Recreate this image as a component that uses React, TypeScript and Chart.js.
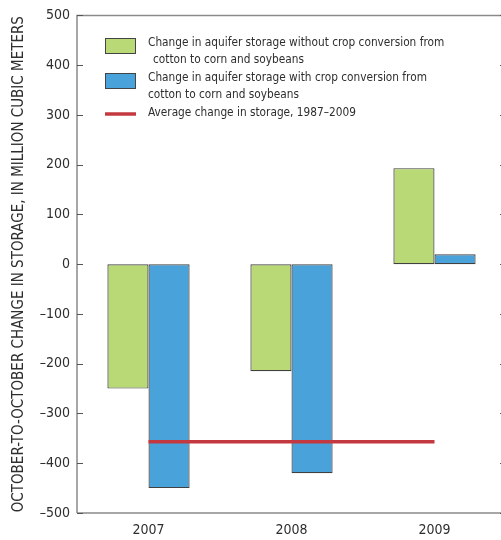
import React, { useEffect, useRef } from "react";
import { Chart, registerables } from "chart.js";

Chart.register(...registerables);

const categories = ["2007", "2008", "2009"];
const withoutConversion = [-250, -215, 193];
const withConversion = [-450, -420, 20];
const averageChange = [-357, -357, -357];
const yTicks = [500, 400, 300, 200, 100, 0, -100, -200, -300, -400, -500];

const legendLines = [
  { kind: "box", color: "#b9d977", lines: ["Change in aquifer storage without crop conversion from", " cotton to corn and soybeans"] },
  { kind: "box", color: "#4aa2da", lines: ["Change in aquifer storage with crop conversion from", "cotton to corn and soybeans"] },
  { kind: "line", color: "#c4393f", lines: ["Average change in storage, 1987\u20132009"] },
];

const FONT = "'DejaVu Sans Condensed', 'Liberation Sans Narrow', sans-serif";

const decorPlugin = {
  id: "decor",
  afterDatasetsDraw(chart: any) {
    const ctx = chart.ctx;
    const area = chart.chartArea;
    const y = chart.scales.y;
    ctx.save();
    // frame
    ctx.strokeStyle = "#8a8a8a";
    ctx.lineWidth = 1.5;
    ctx.beginPath();
    ctx.moveTo(area.left, area.bottom);
    ctx.lineTo(area.left, area.top);
    ctx.lineTo(area.right, area.top);
    ctx.moveTo(area.left, area.bottom);
    ctx.lineTo(area.right, area.bottom);
    ctx.stroke();
    // inward ticks
    ctx.lineWidth = 1;
    ctx.strokeStyle = "#555";
    yTicks.forEach((v) => {
      const py = Math.round(y.getPixelForValue(v)) + 0.5;
      ctx.beginPath();
      ctx.moveTo(area.left, py);
      ctx.lineTo(area.left + 6, py);
      ctx.moveTo(area.right, py);
      ctx.lineTo(area.right - 6, py);
      ctx.stroke();
    });
    // legend
    const x0 = 105;
    const tx = 148;
    let top = 38;
    legendLines.forEach((item) => {
      if (item.kind === "box") {
        ctx.fillStyle = item.color;
        ctx.fillRect(x0, top, 30, 15);
        ctx.strokeStyle = "#444";
        ctx.lineWidth = 1;
        ctx.strokeRect(x0 + 0.5, top + 0.5, 30, 15);
      } else {
        ctx.strokeStyle = item.color;
        ctx.lineWidth = 3.5;
        ctx.beginPath();
        ctx.moveTo(x0, top + 6);
        ctx.lineTo(x0 + 31, top + 6);
        ctx.stroke();
      }
      ctx.fillStyle = "#2e2e2e";
      ctx.font = "12.5px " + FONT;
      ctx.textBaseline = "middle";
      ctx.textAlign = "left";
      item.lines.forEach((t, i) => {
        ctx.save();
        ctx.translate(tx + (t.startsWith(" ") ? 5 : 0), top + 5 + i * 17);
        ctx.scale(0.94, 1);
        ctx.fillText(t.trim(), 0, 0);
        ctx.restore();
      });
      top += item.lines.length === 2 ? 35 : 0;
    });
    ctx.restore();
  },
};

export default function App() {
  const ref = useRef<HTMLCanvasElement | null>(null);
  useEffect(() => {
    document.body.style.margin = "0";
    document.body.style.overflow = "hidden";
    const chart = new Chart(ref.current as HTMLCanvasElement, {
      type: "bar",
      data: {
        labels: categories,
        datasets: [
          {
            type: "line",
            label: "Average change in storage, 1987\u20132009",
            data: averageChange,
            borderColor: "#c4393f",
            borderWidth: 3.5,
            pointRadius: 0,
            fill: false,
            order: 0,
          } as any,
          {
            label: "Without conversion",
            data: withoutConversion,
            backgroundColor: "#b9d977",
            borderColor: "#404040",
            borderWidth: 1.2,
            borderSkipped: false,
            categoryPercentage: 0.575,
            barPercentage: 1,
            order: 1,
          },
          {
            label: "With conversion",
            data: withConversion,
            backgroundColor: "#4aa2da",
            borderColor: "#404040",
            borderWidth: 1.2,
            borderSkipped: false,
            categoryPercentage: 0.575,
            barPercentage: 1,
            order: 1,
          },
        ],
      },
      options: {
        animation: false,
        responsive: false,
        maintainAspectRatio: false,
        layout: { padding: { top: 13, right: 4, bottom: 0, left: 0 } },
        plugins: { legend: { display: false }, tooltip: { enabled: false } },
        scales: {
          x: {
            grid: { display: false, drawTicks: false },
            border: { display: false },
            ticks: { color: "#2e2e2e", font: { family: FONT, size: 14 }, padding: 9 },
            afterFit: (s: any) => { s.height = 27; },
          },
          y: {
            min: -500,
            max: 500,
            grid: { display: false, drawTicks: false },
            border: { display: false },
            afterBuildTicks: (s: any) => { s.ticks = yTicks.map((v) => ({ value: v })); },
            ticks: {
              color: "#2e2e2e",
              font: { family: FONT, size: 14 },
              padding: 7,
              callback: (v: any) => (Number(v) < 0 ? "\u2013" + Math.abs(Number(v)) : String(v)),
            },
            title: {
              display: true,
              text: "OCTOBER-TO-OCTOBER CHANGE IN STORAGE, IN MILLION CUBIC METERS",
              color: "#2e2e2e",
              font: { family: FONT, size: 15 },
              padding: { top: 10, bottom: 0 },
            },
            afterFit: (s: any) => { s.width = 77; },
          },
        },
      },
      plugins: [decorPlugin],
    });
    return () => chart.destroy();
  }, []);
  return (
    <div style={{ position: "fixed", left: 0, top: 0, width: 510, height: 540 }}>
      <canvas ref={ref} width={510} height={540} style={{ width: 510, height: 540 }} />
    </div>
  );
}
